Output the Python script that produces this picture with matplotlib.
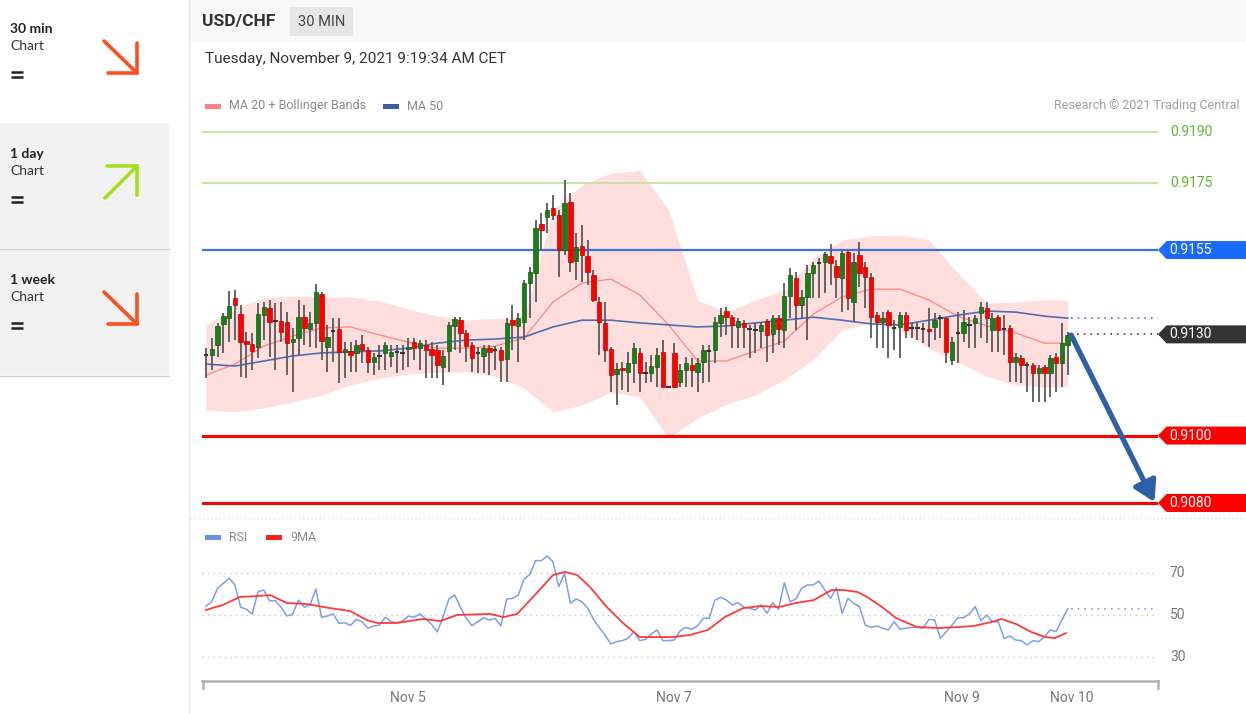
import numpy as np
import matplotlib.pyplot as plt
from matplotlib.patches import Rectangle, Polygon
from matplotlib.transforms import ScaledTranslation

plt.rcParams['font.family'] = ['Roboto', 'DejaVu Sans']

# ---- candles (30 min) ----
open_ = [0.91236, 0.91239, 0.91268, 0.91331, 0.91348, 0.91408, 0.91360, 0.91280, 0.91271, 0.91262,
         0.91357, 0.91378, 0.91337, 0.91340, 0.91337, 0.91277, 0.91289, 0.91351, 0.91316, 0.91334,
         0.91420, 0.91262, 0.91307, 0.91316, 0.91248, 0.91251, 0.91245, 0.91271, 0.91254, 0.91218,
         0.91233, 0.91245, 0.91236, 0.91245, 0.91248, 0.91256, 0.91277, 0.91259, 0.91268, 0.91256,
         0.91254, 0.91203, 0.91251, 0.91325, 0.91342, 0.91304, 0.91268, 0.91245, 0.91236, 0.91259,
         0.91254, 0.91254, 0.91227, 0.91342, 0.91325, 0.91337, 0.91452, 0.91482, 0.91627, 0.91648,
         0.91675, 0.91654, 0.91550, 0.91692, 0.91517, 0.91562, 0.91532, 0.91476, 0.91396, 0.91334,
         0.91256, 0.91182, 0.91200, 0.91188, 0.91215, 0.91245, 0.91185, 0.91185, 0.91203, 0.91248,
         0.91144, 0.91245, 0.91159, 0.91194, 0.91209, 0.91188, 0.91218, 0.91248, 0.91254, 0.91334,
         0.91369, 0.91351, 0.91322, 0.91334, 0.91316, 0.91313, 0.91310, 0.91340, 0.91301, 0.91348,
         0.91313, 0.91414, 0.91467, 0.91387, 0.91411, 0.91482, 0.91508, 0.91514, 0.91532, 0.91503,
         0.91467, 0.91544, 0.91396, 0.91535, 0.91500, 0.91470, 0.91357, 0.91337, 0.91366, 0.91319,
         0.91322, 0.91357, 0.91322, 0.91319, 0.91319, 0.91316, 0.91322, 0.91351, 0.91348, 0.91224,
         0.91307, 0.91304, 0.91328, 0.91334, 0.91363, 0.91378, 0.91313, 0.91351, 0.91316, 0.91319,
         0.91218, 0.91230, 0.91209, 0.91209, 0.91185, 0.91203, 0.91185, 0.91233, 0.91215, 0.91268]
high = [0.91259, 0.91289, 0.91334, 0.91363, 0.91428, 0.91431, 0.91387, 0.91307, 0.91304, 0.91393,
        0.91396, 0.91402, 0.91393, 0.91396, 0.91366, 0.91319, 0.91402, 0.91387, 0.91366, 0.91449,
        0.91425, 0.91328, 0.91348, 0.91348, 0.91277, 0.91277, 0.91283, 0.91298, 0.91262, 0.91245,
        0.91268, 0.91277, 0.91268, 0.91268, 0.91268, 0.91289, 0.91289, 0.91283, 0.91283, 0.91277,
        0.91268, 0.91254, 0.91337, 0.91351, 0.91351, 0.91313, 0.91277, 0.91262, 0.91268, 0.91268,
        0.91265, 0.91262, 0.91348, 0.91387, 0.91363, 0.91461, 0.91500, 0.91639, 0.91660, 0.91689,
        0.91713, 0.91669, 0.91758, 0.91719, 0.91600, 0.91624, 0.91580, 0.91491, 0.91411, 0.91396,
        0.91262, 0.91215, 0.91218, 0.91248, 0.91274, 0.91259, 0.91218, 0.91239, 0.91259, 0.91283,
        0.91147, 0.91274, 0.91212, 0.91233, 0.91230, 0.91230, 0.91268, 0.91268, 0.91351, 0.91378,
        0.91381, 0.91357, 0.91348, 0.91342, 0.91328, 0.91334, 0.91337, 0.91345, 0.91357, 0.91357,
        0.91452, 0.91497, 0.91485, 0.91431, 0.91505, 0.91514, 0.91526, 0.91544, 0.91568, 0.91520,
        0.91547, 0.91550, 0.91541, 0.91574, 0.91514, 0.91482, 0.91366, 0.91366, 0.91372, 0.91342,
        0.91366, 0.91366, 0.91334, 0.91334, 0.91334, 0.91378, 0.91363, 0.91357, 0.91351, 0.91292,
        0.91366, 0.91372, 0.91351, 0.91357, 0.91396, 0.91396, 0.91363, 0.91357, 0.91357, 0.91328,
        0.91245, 0.91239, 0.91218, 0.91215, 0.91209, 0.91209, 0.91239, 0.91245, 0.91334, 0.91307]
low = [0.91170, 0.91194, 0.91233, 0.91245, 0.91277, 0.91283, 0.91173, 0.91170, 0.91194, 0.91230,
       0.91283, 0.91233, 0.91194, 0.91277, 0.91179, 0.91129, 0.91239, 0.91268, 0.91262, 0.91259,
       0.91224, 0.91188, 0.91218, 0.91156, 0.91170, 0.91188, 0.91188, 0.91215, 0.91185, 0.91179,
       0.91194, 0.91194, 0.91203, 0.91185, 0.91194, 0.91203, 0.91224, 0.91194, 0.91170, 0.91170,
       0.91170, 0.91150, 0.91188, 0.91254, 0.91245, 0.91218, 0.91188, 0.91185, 0.91185, 0.91179,
       0.91194, 0.91159, 0.91159, 0.91254, 0.91218, 0.91283, 0.91348, 0.91396, 0.91550, 0.91600,
       0.91639, 0.91470, 0.91535, 0.91485, 0.91461, 0.91455, 0.91446, 0.91396, 0.91239, 0.91218,
       0.91129, 0.91090, 0.91135, 0.91129, 0.91156, 0.91129, 0.91156, 0.91159, 0.91144, 0.91141,
       0.91141, 0.91141, 0.91144, 0.91144, 0.91144, 0.91129, 0.91156, 0.91159, 0.91215, 0.91292,
       0.91298, 0.91259, 0.91259, 0.91259, 0.91230, 0.91245, 0.91259, 0.91218, 0.91245, 0.91268,
       0.91259, 0.91348, 0.91313, 0.91348, 0.91283, 0.91408, 0.91408, 0.91423, 0.91446, 0.91408,
       0.91366, 0.91372, 0.91337, 0.91440, 0.91378, 0.91289, 0.91259, 0.91259, 0.91230, 0.91254,
       0.91230, 0.91289, 0.91289, 0.91283, 0.91274, 0.91262, 0.91283, 0.91289, 0.91215, 0.91209,
       0.91215, 0.91277, 0.91259, 0.91259, 0.91289, 0.91274, 0.91248, 0.91248, 0.91239, 0.91159,
       0.91159, 0.91156, 0.91129, 0.91099, 0.91099, 0.91099, 0.91114, 0.91129, 0.91144, 0.91179]
close = [0.91239, 0.91256, 0.91325, 0.91354, 0.91384, 0.91387, 0.91277, 0.91271, 0.91251, 0.91360,
         0.91381, 0.91337, 0.91340, 0.91307, 0.91274, 0.91286, 0.91351, 0.91319, 0.91334, 0.91425,
         0.91280, 0.91292, 0.91310, 0.91248, 0.91256, 0.91239, 0.91268, 0.91254, 0.91218, 0.91233,
         0.91236, 0.91268, 0.91248, 0.91248, 0.91245, 0.91262, 0.91259, 0.91274, 0.91254, 0.91239,
         0.91209, 0.91236, 0.91328, 0.91345, 0.91304, 0.91265, 0.91230, 0.91246, 0.91259, 0.91248,
         0.91253, 0.91224, 0.91334, 0.91328, 0.91348, 0.91452, 0.91485, 0.91615, 0.91609, 0.91669,
         0.91654, 0.91550, 0.91689, 0.91514, 0.91559, 0.91535, 0.91485, 0.91402, 0.91337, 0.91254,
         0.91179, 0.91197, 0.91194, 0.91215, 0.91259, 0.91185, 0.91186, 0.91206, 0.91239, 0.91144,
         0.91145, 0.91144, 0.91194, 0.91215, 0.91194, 0.91215, 0.91254, 0.91251, 0.91337, 0.91357,
         0.91351, 0.91328, 0.91340, 0.91322, 0.91317, 0.91314, 0.91328, 0.91298, 0.91348, 0.91316,
         0.91414, 0.91476, 0.91387, 0.91411, 0.91482, 0.91505, 0.91511, 0.91538, 0.91511, 0.91470,
         0.91541, 0.91408, 0.91514, 0.91482, 0.91470, 0.91351, 0.91337, 0.91348, 0.91328, 0.91320,
         0.91357, 0.91313, 0.91319, 0.91320, 0.91316, 0.91310, 0.91342, 0.91348, 0.91248, 0.91277,
         0.91304, 0.91337, 0.91329, 0.91348, 0.91381, 0.91348, 0.91348, 0.91313, 0.91317, 0.91218,
         0.91233, 0.91209, 0.91210, 0.91185, 0.91200, 0.91185, 0.91230, 0.91215, 0.91274, 0.91298]

# ---- MA 20, Bollinger bands, MA 50 (read every 5 candles) ----
band_idx = list(range(0, 150, 5)) + [149]
ma20 = [0.91179, 0.91212, 0.91265, 0.91295, 0.91319, 0.91322, 0.91298, 0.91277, 0.91259, 0.91259,
        0.91265, 0.91289, 0.91396, 0.91452, 0.91464, 0.91417, 0.91328, 0.91221, 0.91221, 0.91251,
        0.91280, 0.91360, 0.91411, 0.91434, 0.91434, 0.91402, 0.91354, 0.91325, 0.91304, 0.91274, 0.91274]
ma50 = [0.91212, 0.91206, 0.91221, 0.91236, 0.91245, 0.91248, 0.91251, 0.91259, 0.91274, 0.91283,
        0.91286, 0.91292, 0.91322, 0.91342, 0.91342, 0.91334, 0.91328, 0.91322, 0.91325, 0.91334,
        0.91342, 0.91351, 0.91342, 0.91331, 0.91328, 0.91342, 0.91357, 0.91369, 0.91366, 0.91354, 0.91348]
bb_upper = [0.91328, 0.91378, 0.91408, 0.91414, 0.91411, 0.91411, 0.91399, 0.91375, 0.91354, 0.91342,
            0.91348, 0.91348, 0.91669, 0.91743, 0.91778, 0.91787, 0.91669, 0.91402, 0.91366, 0.91402,
            0.91431, 0.91526, 0.91580, 0.91592, 0.91594, 0.91580, 0.91482, 0.91393, 0.91396, 0.91402, 0.91402]
bb_lower = [0.91076, 0.91070, 0.91082, 0.91099, 0.91120, 0.91150, 0.91170, 0.91182, 0.91188, 0.91188,
            0.91176, 0.91141, 0.91070, 0.91090, 0.91129, 0.91114, 0.90993, 0.91052, 0.91093, 0.91120,
            0.91165, 0.91224, 0.91313, 0.91334, 0.91313, 0.91259, 0.91218, 0.91176, 0.91150, 0.91144, 0.91144]

# ---- RSI and its 9 period MA ----
rsi = [54.3, 56.3, 62.7, 65.1, 67.5, 64.3, 53.7, 52.7, 50.5, 61.1,
       61.9, 56.8, 56.8, 53.7, 49.5, 50.5, 57.1, 53.7, 54.8, 62.4,
       48.9, 49.5, 50.5, 46.0, 46.3, 45.1, 47.9, 46.7, 43.7, 44.8,
       45.2, 48.9, 46.8, 46.3, 47.1, 49.5, 48.9, 50.5, 48.1, 45.6,
       41.9, 49.2, 57.6, 59.5, 53.7, 48.4, 44.9, 46.8, 48.7, 47.6,
       48.4, 44.8, 57.6, 57.9, 59.5, 67.0, 69.4, 75.9, 75.9, 78.1,
       75.4, 63.5, 69.8, 55.6, 57.6, 56.3, 53.2, 47.9, 44.1, 40.5,
       36.2, 37.3, 37.8, 38.9, 42.1, 37.8, 38.4, 41.0, 42.9, 37.8,
       37.8, 38.1, 42.5, 44.1, 43.2, 44.8, 48.4, 48.4, 57.1, 58.4,
       57.1, 54.8, 55.9, 53.7, 53.2, 52.4, 54.8, 50.8, 55.9, 52.7,
       65.4, 56.3, 57.6, 62.7, 64.3, 64.3, 66.2, 61.9, 57.9, 63.0,
       50.8, 57.9, 55.6, 54.0, 45.2, 44.1, 44.8, 43.7, 42.9, 46.8,
       43.2, 43.7, 44.1, 44.1, 43.7, 47.9, 47.6, 38.9, 42.1, 45.2,
       48.7, 48.7, 50.5, 54.0, 47.3, 50.0, 46.7, 46.8, 38.9, 40.0,
       38.1, 37.8, 35.7, 37.8, 37.3, 39.7, 42.9, 42.1, 47.6, 52.9]
ma9_idx = [0, 2.9, 5.9, 8.8, 11.1, 14.0, 17.5, 21.4, 24.9, 27.8, 29.6, 33.0, 37.5, 40.5, 43.4,
           49.1, 51.4, 53.8, 57.2, 60.0, 62.1, 64.2, 66.4, 69.3, 72.1, 75.0, 80.8, 83.7, 86.8,
           89.7, 92.9, 96.0, 99.1, 102.0, 105.1, 108.2, 110.1, 112.6, 114.3, 116.9, 119.3, 122.9,
           126.6, 130.4, 132.8, 135.9, 137.6, 140.1, 142.7, 145.1, 146.8, 148.7]
ma9 = [52.4, 54.8, 58.6, 59.0, 59.5, 55.7, 55.2, 53.3, 51.9, 47.6, 46.2, 46.2, 48.1, 47.1, 50.0,
       50.5, 49.0, 50.5, 60.5, 69.0, 70.5, 69.0, 63.3, 53.8, 46.2, 39.5, 39.5, 40.5, 42.9,
       49.0, 53.3, 54.3, 53.8, 55.7, 57.1, 61.9, 61.9, 61.0, 58.6, 53.8, 48.6, 44.3,
       43.8, 44.3, 44.8, 46.7, 48.1, 45.7, 41.9, 39.5, 39.0, 41.4]

resistances = [0.9190, 0.9175]
pivot = 0.9155
supports = [0.9100, 0.9080]
last_price = 0.9130
target = 0.9080

date_labels = ["Nov 5", "Nov 7", "Nov 9", "Nov 10"]
date_pos = [34.9, 80.9, 130.7, 149.7]
rsi_levels = [30, 50, 70]

timeframes = ["30 min", "1 day", "1 week"]
trends = ["down", "up", "down"]

# ---- figure ----
W, H = 1246, 714
fig = plt.figure(figsize=(W / 100, H / 100), dpi=100)


def px_axes(x0, y0, x1, y1):
    return fig.add_axes([x0 / W, 1 - y1 / H, (x1 - x0) / W, (y1 - y0) / H])


# page furniture in pixel coordinates
bg = px_axes(0, 0, W, H)
bg.set_xlim(0, W)
bg.set_ylim(H, 0)
bg.axis('off')
bg.set_zorder(-5)

bg.add_patch(Rectangle((0, 123), 169, 125, fc='#f2f2f2', ec='none'))
bg.add_patch(Rectangle((0, 249), 169, 126, fc='#f2f2f2', ec='none'))
bg.plot([0, 169], [248.5, 248.5], color='#d2d2d2', lw=1)
bg.plot([0, 169], [375.5, 375.5], color='#d2d2d2', lw=1)
bg.plot([188.5, 188.5], [0, H], color='#e9e9e9', lw=1)
bg.add_patch(Rectangle((189, 0), W - 189, 42, fc='#f8f8f8', ec='none'))

side_font = ['Lato', 'DejaVu Sans']
for k, (name, trend) in enumerate(zip(timeframes, trends)):
    top = [0, 125, 251][k]
    bg.text(10, top + 29, name, fontsize=10, fontweight='bold', family=side_font,
            color='#222222', va='center')
    bg.text(10, top + 46, "Chart", fontsize=10, family=side_font, color='#333333', va='center')
    # the "=" menu mark
    bg.plot([11, 23], [top + 71.5, top + 71.5], color='#222222', lw=1.8, solid_capstyle='butt')
    bg.plot([11, 23], [top + 76.5, top + 76.5], color='#222222', lw=1.8, solid_capstyle='butt')
    if trend == 'down':
        col = '#ff4f1f'
        segs = [([104, 137], [top + 41, top + 73]), ([108, 137], [top + 73, top + 73]),
                ([137, 137], [top + 43, top + 73])]
    else:
        col = '#a6df22'
        segs = [([105, 137], [top + 73, top + 41]), ([107, 137], [top + 41, top + 41]),
                ([137, 137], [top + 41, top + 70])]
    for xs, ys in segs:
        bg.plot(xs, ys, color=col, lw=2.6, solid_capstyle='round')

bg.text(202, 21.5, "USD/CHF", fontsize=12.5, fontweight='bold', color='#333333', va='center')
bg.add_patch(Rectangle((290, 7), 63, 29, fc='#e6e6e6', ec='none'))
bg.text(321.5, 21.5, "30 MIN", fontsize=10.5, color='#444444', ha='center', va='center')
bg.text(205, 59, "Tuesday, November 9, 2021 9:19:34 AM CET", fontsize=11, color='#333333',
        va='center')

bg.add_patch(Rectangle((205, 103.5), 16, 5, fc='#ff8080', ec='none'))
bg.text(229, 106, "MA 20 + Bollinger Bands", fontsize=9, color='#8a8a8a', va='center')
bg.add_patch(Rectangle((383, 103.5), 16, 5, fc='#3b5ea8', ec='none'))
bg.text(407, 106, "MA 50", fontsize=9, color='#8a8a8a', va='center')
bg.text(1240, 106, "Research \u00a9 2021 Trading Central", fontsize=9, color='#a0a0a0',
        ha='right', va='center')

bg.plot([190, W], [518, 518], color='#dddddd', lw=1, ls=(0, (1, 2)))
bg.add_patch(Rectangle((205, 535), 16, 5, fc='#6d8fe6', ec='none'))
bg.text(229, 537.5, "RSI", fontsize=9, color='#8a8a8a', va='center')
bg.add_patch(Rectangle((266, 535), 16, 5, fc='#ff2020', ec='none'))
bg.text(290, 537.5, "9MA", fontsize=9, color='#8a8a8a', va='center')
bg.plot([202.5, 202.5], [681, 688], color='#b0b0b0', lw=1.8)
bg.plot([1157.5, 1157.5], [681, 688], color='#b0b0b0', lw=1.8)

# ---- price panel ----
xr = 164.62
ax = px_axes(202, 120, 1158, 515)
ax.set_xlim(-0.69, xr)
ax.set_ylim(0.907644, 0.919356)
ax.axis('off')

ax.fill_between(band_idx, bb_lower, bb_upper, color='#ffdede', lw=0, zorder=1)
ax.plot(band_idx, ma20, color='#ff8c8c', lw=1, zorder=2)
ax.plot(band_idx, ma50, color='#4d6fb3', lw=1.2, zorder=2)

for lv in resistances:
    ax.axhline(lv, color='#bfe39c', lw=1.3, zorder=1.5)
ax.axhline(pivot, color='#3d6fe6', lw=1.6, zorder=1.5)
for lv in supports:
    ax.axhline(lv, color='#ff0000', lw=2.2, zorder=1.5)

x = np.arange(len(close))
o = np.array(open_)
c = np.array(close)
ax.vlines(x, low, high, color='#5a5a5a', lw=1.3, zorder=3)
up = c > o + 0.00004
dn = c < o - 0.00004
dj = ~(up | dn)
ax.bar(x[up], (c - o)[up], bottom=o[up], width=0.76, color='#1d7d1d', edgecolor='#135a13',
       lw=0.5, zorder=4)
ax.bar(x[dn], (c - o)[dn], bottom=o[dn], width=0.76, color='#ff0000', edgecolor='#c40000',
       lw=0.5, zorder=4)
ax.hlines(c[dj], x[dj] - 0.38, x[dj] + 0.38, color='#333333', lw=1.5, zorder=4)

ax.hlines(ma50[-1], 149.6, xr, colors='#4d6fb3', lw=1.2, linestyles=(0, (1, 3)), zorder=2)
ax.hlines(last_price, 150.6, xr, colors='#444444', lw=1.2, linestyles=(0, (1, 3)), zorder=2)


def tag(level, color):
    trans = fig.dpi_scale_trans + ScaledTranslation(xr, level, ax.transData)
    p = Polygon([(0, 0), (0.085, 0.09), (0.9, 0.09), (0.9, -0.09), (0.085, -0.09)],
                closed=True, transform=trans, fc=color, ec='none', zorder=6)
    ax.add_patch(p)
    p.set_clip_on(False)
    ax.annotate(f"{level:.4f}", xy=(xr, level), xytext=(11, 0), textcoords='offset pixels',
                va='center', ha='left', color='white', fontsize=10, annotation_clip=False,
                zorder=7)


for lv in resistances:
    ax.annotate(f"{lv:.4f}", xy=(xr, lv), xytext=(12, 0), textcoords='offset pixels',
                va='center', ha='left', color='#5db832', fontsize=10, annotation_clip=False)
tag(pivot, '#1a6aff')
tag(last_price, '#333333')
for lv in supports:
    tag(lv, '#ff0000')

ax.annotate('', xy=(164.0, target + 0.00003), xytext=(149.6, last_price - 0.00002),
            arrowprops=dict(arrowstyle='-|>,head_length=1.0,head_width=0.6', mutation_scale=12,
                            color='#2f5fa5', lw=3.8, shrinkA=0, shrinkB=0),
            annotation_clip=False, zorder=8)

# ---- RSI panel ----
ax2 = px_axes(202, 545, 1158, 681)
ax2.set_xlim(-0.69, xr)
ax2.set_ylim(18.57, 83.33)
ax2.patch.set_alpha(0)
for v in rsi_levels:
    ax2.axhline(v, color='#c4c4c4', lw=1, ls=(0, (1, 3)))
    ax2.annotate(str(v), xy=(xr, v), xytext=(12, 0), textcoords='offset pixels', va='center',
                 ha='left', fontsize=10, color='#777777', annotation_clip=False)
ax2.plot(x, rsi, color='#7f9de8', lw=1.1)
ax2.plot(ma9_idx, ma9, color='#ff3a3a', lw=1.3)
ax2.hlines(rsi[-1], 149.6, xr, colors='#7f9de8', lw=1.2, linestyles=(0, (1, 3)))

for s in ['top', 'left', 'right']:
    ax2.spines[s].set_visible(False)
ax2.spines['bottom'].set_color('#b0b0b0')
ax2.spines['bottom'].set_linewidth(1.8)
ax2.set_yticks([])
ax2.set_xticks(date_pos, date_labels)
ax2.tick_params(axis='x', length=0, pad=7, labelsize=10, labelcolor='#777777')

fig.savefig('out.png', dpi=100)
